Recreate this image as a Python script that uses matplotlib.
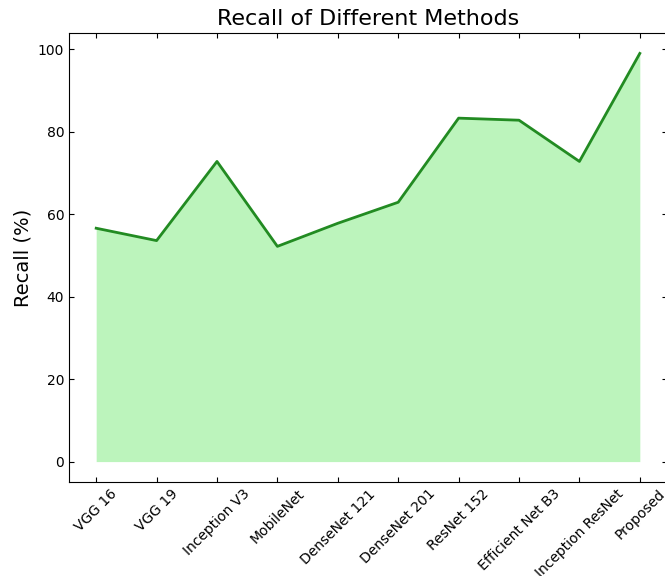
import numpy as np
import matplotlib
matplotlib.use("Agg")
import matplotlib.pyplot as plt

# method names and recall values (%)
methods = ["VGG 16", "VGG 19", "Inception V3", "MobileNet", "DenseNet 121",
           "DenseNet 201", "ResNet 152", "Efficient Net B3", "Inception ResNet",
           "Proposed"]
recall = [56.6, 53.6, 72.8, 52.2, 57.8, 62.9, 83.3, 82.8, 72.8, 99.0]

W, H = 665, 576
fig = plt.figure(figsize=(W / 100, H / 100), dpi=100)
# axes runs slightly past the right edge, like the cropped original
ax = fig.add_axes([69 / W, 1 - 482 / H, (667 - 69) / W, (482 - 33) / H])

x = np.arange(len(methods))
ax.fill_between(x, recall, color="lightgreen", alpha=0.6, linewidth=0)
ax.plot(x, recall, color="forestgreen", linewidth=2)

ax.set_xticks(x)
ax.set_xticklabels(methods, rotation=45, fontsize=10)
ax.tick_params(direction="in", top=True, right=True, labelsize=10)
ax.set_ylabel("Recall (%)", fontsize=14)
ax.set_title("Recall of Different Methods", fontsize=16)

fig.savefig("out.png", dpi=100)
